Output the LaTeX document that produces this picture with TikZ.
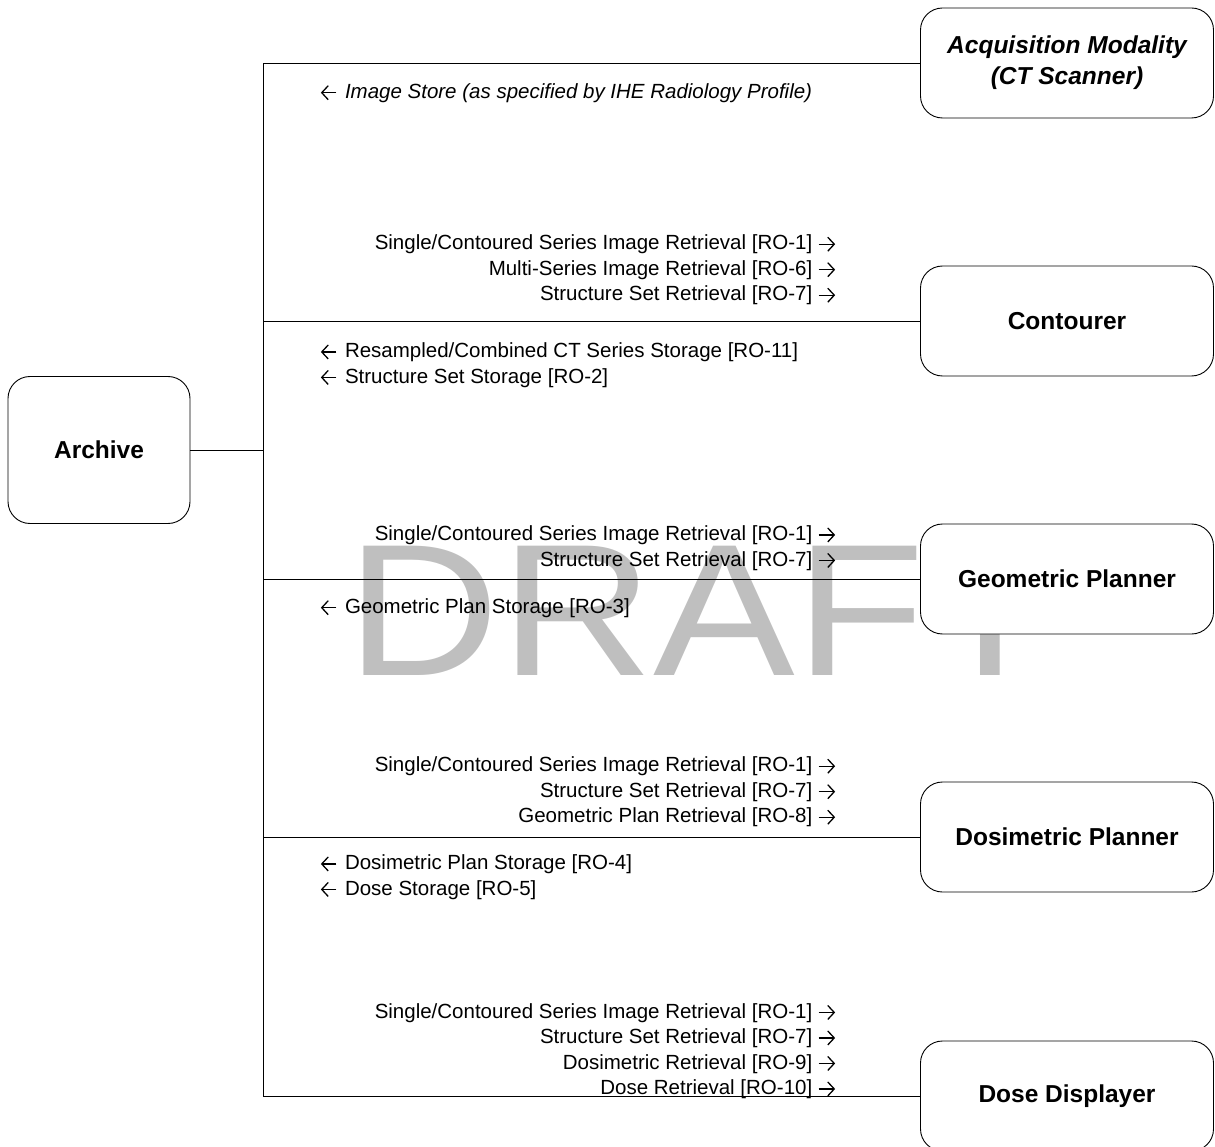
\documentclass[tikz,border=0pt]{standalone}
\usetikzlibrary{arrows.meta}
\usepackage{fontspec}
\setmainfont{Liberation Sans}
\tikzset{txtarrow/.style={line width=1.3pt,-{Straight Barb[length=6.5pt,width=14pt,line width=1.3pt]}}}
\newcommand{\myL}{\tikz[baseline=0pt]\draw[txtarrow] (16pt,5.6pt)--(0.5pt,5.6pt);\hspace{8pt}}
\newcommand{\myR}{\ \tikz[baseline=0pt]\draw[txtarrow] (0pt,5.6pt)--(16.5pt,5.6pt);\hspace{0.5pt}}
\begin{document}
\begin{tikzpicture}[x=1pt,y=-1pt,
  actor/.style={draw,fill=white,line width=0.9pt,rounded corners=22pt,minimum width=293pt,minimum height=110pt,inner sep=0pt,align=center,font=\fontsize{24.5}{31}\selectfont\bfseries},
  lbl/.style={inner sep=0pt,font=\fontsize{20.5}{25.5}\selectfont},
  rlbl/.style={lbl,anchor=east,align=right},
  llbl/.style={lbl,anchor=west,align=left},
  wire/.style={line width=0.9pt}]
\useasboundingbox (0,0) rectangle (1215,1147);
% watermark
\node[text=black!25,inner sep=0pt,xscale=1.13,font=\fontsize{188}{188}\selectfont] (wm) at (701,611) {DRAFT};
% bus
\coordinate (bt) at (263,63);
\coordinate (bm) at (263,450);
\coordinate (bc) at (263,321);
\coordinate (bg) at (263,579);
\coordinate (bd) at (263,837);
\coordinate (bb) at (263,1096);
% actors
\node[actor,minimum width=182pt,minimum height=147pt] (arch) at (99,450) {Archive};
\node[actor] (acq) at (1067,63) {\itshape Acquisition Modality\\\itshape (CT Scanner)};
\node[actor] (cont) at (1067,321) {Contourer};
\node[actor] (geo) at (1067,579) {Geometric Planner};
\node[actor] (dosi) at (1067,837) {Dosimetric Planner};
\node[actor] (disp) at (1067,1096) {Dose Displayer};
\draw[wire] (arch.east) -- (bm);
\draw[wire] (acq.west) -- (bt) -- (bb) -- (disp.west);
\draw[wire] (bc) -- (cont.west);
\draw[wire] (bg) -- (geo.west);
\draw[wire] (bd) -- (dosi.west);
% labels
\node[llbl] (t1) at (320,93) {\myL\itshape Image Store (as specified by IHE Radiology Profile)};
\node[rlbl] (t2) at (836,270) {Single/Contoured Series Image Retrieval [RO-1]\myR\\Multi-Series Image Retrieval [RO-6]\myR\\Structure Set Retrieval [RO-7]\myR};
\node[llbl] (t3) at (320,365) {\myL Resampled/Combined CT Series Storage [RO-11]\\\myL Structure Set Storage [RO-2]};
\node[rlbl] (t4) at (836,548) {Single/Contoured Series Image Retrieval [RO-1]\myR\\Structure Set Retrieval [RO-7]\myR};
\node[llbl] (t5) at (320,608) {\myL Geometric Plan Storage [RO-3]};
\node[rlbl] (t6) at (836,792) {Single/Contoured Series Image Retrieval [RO-1]\myR\\Structure Set Retrieval [RO-7]\myR\\Geometric Plan Retrieval [RO-8]\myR};
\node[llbl] (t7) at (320,877) {\myL Dosimetric Plan Storage [RO-4]\\\myL Dose Storage [RO-5]};
\node[rlbl] (t8) at (836,1051) {Single/Contoured Series Image Retrieval [RO-1]\myR\\Structure Set Retrieval [RO-7]\myR\\Dosimetric Retrieval [RO-9]\myR\\Dose Retrieval [RO-10]\myR};
\end{tikzpicture}
\end{document}
